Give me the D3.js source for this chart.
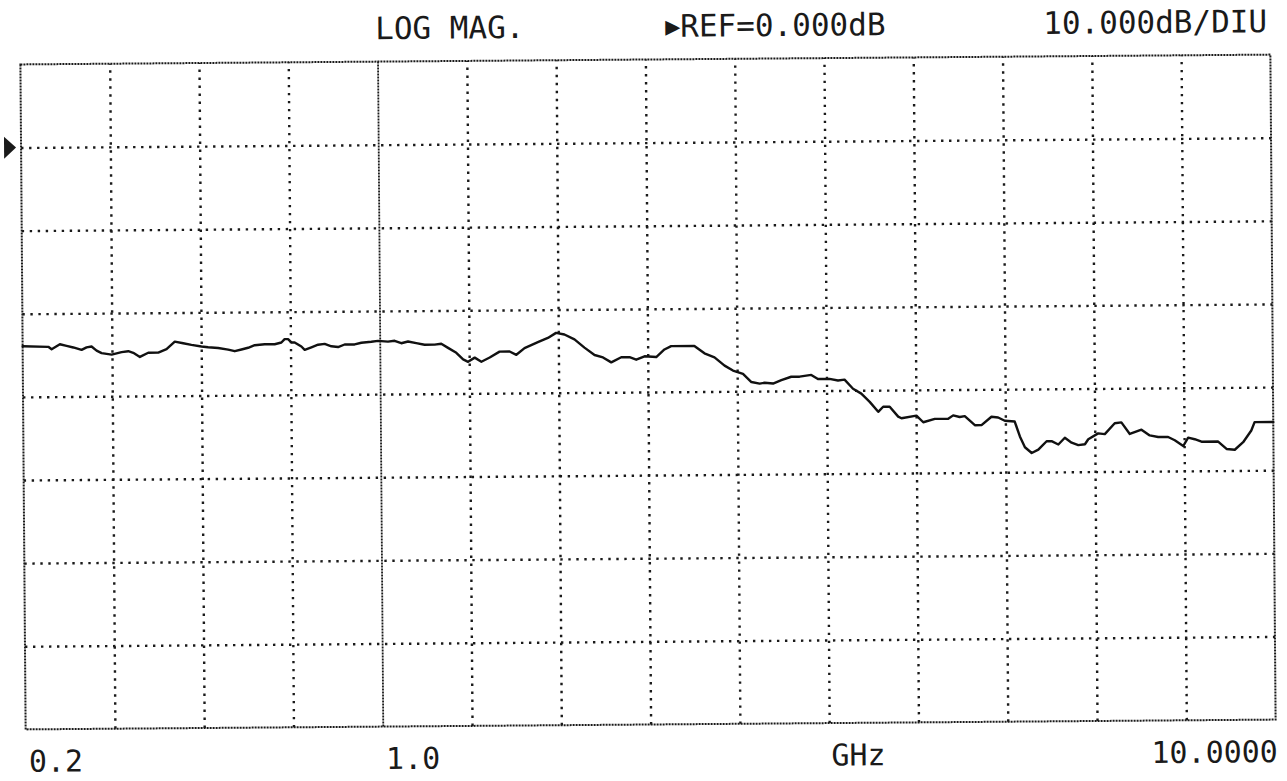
<!DOCTYPE html>
<html><head><meta charset="utf-8">
<script src="https://cdn.jsdelivr.net/npm/d3@7"></script>
<style>html,body{margin:0;padding:0;background:#fff;overflow:hidden}</style>
</head><body>
<svg id="chart" width="1287" height="781"></svg>
<script>
// ---- data ----
const freqBreaks = [0.2, 1.0, 10.0];          // GHz: 4 divisions below 1 GHz, 10 above
const gridFreqs = [0.4, 0.6, 0.8, 1.9, 2.8, 3.7, 4.6, 5.5, 6.4, 7.3, 8.2, 9.1];
const bandFreq = [1.0];
const yDomain = [-70, 10];                    // dB, 10 dB/div, 8 divisions
const gridDb = [0, -10, -20, -30, -40, -50, -60];
const refDb = 0;
const headerLabels = ["LOG MAG.", "\u25B6REF=0.000dB", "10.000dB/DIU"];
const xTickLabels = ["0.2", "1.0", "GHz", "10.0000"];
const xTickFreqs = [0.2, 1.0, 5.5, 10.0];

const traceFreq = [
 0.2,0.2575,0.2649,0.2835,0.2985,0.3135,0.332,0.3432,0.3544,0.3656,0.3768,0.3992,0.4216,0.4366,0.4477,0.4625,0.4813,0.5037,0.5223,0.5409,
 0.5597,0.5782,0.6006,0.6156,0.638,0.6604,0.6751,0.6901,0.7051,0.7199,0.7423,0.7647,0.7797,0.787,0.7947,0.802,0.8094,0.8244,0.8318,0.8468,
 0.8618,0.8766,0.8916,0.9066,0.9213,0.9437,0.9587,0.9811,0.9961,1.083,1.150,1.217,1.285,1.368,1.452,1.553,1.620,1.688,1.771,1.839,
 1.889,1.956,2.023,2.107,2.207,2.308,2.376,2.459,2.594,2.695,2.778,2.862,2.963,3.063,3.164,3.249,3.332,3.433,3.517,3.584,
 3.668,3.786,3.869,3.937,4.171,4.272,4.373,4.474,4.558,4.659,4.743,4.826,4.876,4.961,5.045,5.145,5.229,5.347,5.414,5.531,
 5.616,5.682,5.767,5.850,5.934,6.019,6.069,6.135,6.220,6.253,6.404,6.472,6.589,6.724,6.774,6.840,6.891,6.992,7.059,7.160,
 7.227,7.294,7.394,7.445,7.495,7.563,7.630,7.714,7.764,7.832,7.898,7.966,8.033,8.100,8.134,8.234,8.301,8.402,8.469,8.553,
 8.671,8.754,8.839,8.939,9.006,9.091,9.141,9.207,9.275,9.443,9.527,9.610,9.695,9.778,9.812,10.0
];
const traceDb = [
 -23.9,-24.0,-24.3,-23.7,-23.9,-24.1,-24.4,-24.1,-24.0,-24.5,-24.8,-25.0,-24.7,-24.6,-24.8,-25.3,-24.8,-24.8,-24.4,-23.5,
 -23.7,-23.9,-24.1,-24.2,-24.3,-24.5,-24.7,-24.5,-24.3,-24.0,-23.9,-23.9,-23.7,-23.3,-23.3,-23.7,-23.7,-24.2,-24.6,-24.3,
 -24.0,-23.9,-24.2,-24.3,-24.0,-24.0,-23.8,-23.7,-23.6,-23.7,-23.6,-23.9,-23.7,-23.9,-24.1,-24.1,-24.0,-24.5,-25.1,-25.9,
 -26.2,-25.7,-26.2,-25.7,-25.0,-25.0,-25.4,-24.6,-23.9,-23.4,-22.8,-23.0,-23.6,-24.6,-25.5,-25.8,-26.4,-25.8,-25.8,-26.1,
 -25.7,-25.8,-24.9,-24.5,-24.5,-25.4,-25.9,-26.9,-27.5,-27.9,-28.9,-29.1,-29.0,-29.1,-28.7,-28.3,-28.3,-28.1,-28.6,-28.6,
 -28.8,-28.7,-29.8,-30.4,-31.4,-32.6,-32.0,-32.0,-33.2,-33.4,-33.1,-33.9,-33.5,-33.5,-33.1,-33.3,-33.2,-34.3,-34.3,-33.3,
 -33.4,-33.8,-33.9,-35.7,-37.0,-37.7,-37.3,-36.3,-36.3,-36.7,-35.9,-36.5,-36.8,-36.7,-36.1,-35.4,-35.5,-34.2,-34.1,-35.5,
 -35.0,-35.7,-35.9,-35.9,-36.3,-37.0,-36.0,-36.2,-36.5,-36.5,-37.4,-37.5,-36.6,-35.2,-34.2,-34.2
];

// ---- layout ----
const L = 23, R = 1273, T = 59.5, B = 724.5;
const svg = d3.select("#chart");
const g = svg.append("g").attr("transform", "rotate(-0.45, 648, 392)");

const x = d3.scaleLinear().domain(freqBreaks).range([L, L + (R - L) * 4 / 14, R]);
const y = d3.scaleLinear().domain(yDomain).range([B, T]);

const ink = "#1a1a1a";
const font = "'DejaVu Sans Mono', 'Liberation Mono', monospace";

// vertical dotted grid
const gx = g.append("g").attr("transform", `translate(0,${B})`)
  .call(d3.axisBottom(x).tickValues(gridFreqs).tickSize(-(B - T)).tickFormat(""));
gx.select(".domain").remove();
gx.selectAll(".tick line").attr("stroke", ink).attr("stroke-width", 2.4)
  .attr("stroke-dasharray", "2.4,5.6");

// horizontal dotted grid
const gy = g.append("g").attr("transform", `translate(${L},0)`)
  .call(d3.axisLeft(y).tickValues(gridDb).tickSize(-(R - L)).tickFormat(""));
gy.select(".domain").remove();
gy.selectAll(".tick line").attr("stroke", ink).attr("stroke-width", 2.4)
  .attr("stroke-dasharray", "2.4,5.6");

// band break line at 1.0 GHz (dense)
const gb = g.append("g").attr("transform", `translate(0,${B})`)
  .call(d3.axisBottom(x).tickValues(bandFreq).tickSize(-(B - T)).tickFormat(""));
gb.select(".domain").remove();
gb.selectAll(".tick line").attr("stroke", ink).attr("stroke-width", 1.8)
  .attr("stroke-dasharray", "2,1");

// border
g.append("rect").attr("x", L).attr("y", T).attr("width", R - L).attr("height", B - T)
  .attr("fill", "none").attr("stroke", ink).attr("stroke-width", 2)
  .attr("stroke-dasharray", "2,1");

// trace
const pts = traceFreq.map((f, i) => [f, traceDb[i]]);
g.append("path").datum(pts)
  .attr("fill", "none").attr("stroke", "#111").attr("stroke-width", 2.4)
  .attr("stroke-linejoin", "round").attr("stroke-linecap", "round")
  .attr("d", d3.line().x(d => x(d[0])).y(d => y(d[1])));

// reference marker
const yr = y(refDb);
g.append("path").attr("d", `M${L - 17},${yr - 11}L${L - 5},${yr}L${L - 17},${yr + 11}Z`).attr("fill", ink);

// header text
const hdrY = 37;
const hdr = g.append("g").attr("font-family", font).attr("font-size", 31).attr("fill", ink);
hdr.append("text").attr("x", 378).attr("y", hdrY).text(headerLabels[0]);
const ref = hdr.append("text").attr("x", 668).attr("y", hdrY);
ref.append("tspan").attr("font-size", 25).attr("dy", -2).text(headerLabels[1].slice(0, 1));
ref.append("tspan").attr("dy", 2).text(headerLabels[1].slice(1));
hdr.append("text").attr("x", 1270).attr("y", hdrY).attr("text-anchor", "end").text(headerLabels[2]);

// bottom labels
const botY = 767;
const bot = g.append("g").attr("font-family", font).attr("font-size", 30).attr("fill", ink);
bot.append("text").attr("x", x(xTickFreqs[0]) + 3).attr("y", botY).text(xTickLabels[0]);
bot.append("text").attr("x", x(xTickFreqs[1]) + 3).attr("y", botY).text(xTickLabels[1]);
bot.append("text").attr("x", x(xTickFreqs[2]) + 2).attr("y", botY).text(xTickLabels[2]);
bot.append("text").attr("x", x(xTickFreqs[3]) + 2).attr("y", botY).attr("text-anchor", "end").text(xTickLabels[3]);
</script>
</body></html>
